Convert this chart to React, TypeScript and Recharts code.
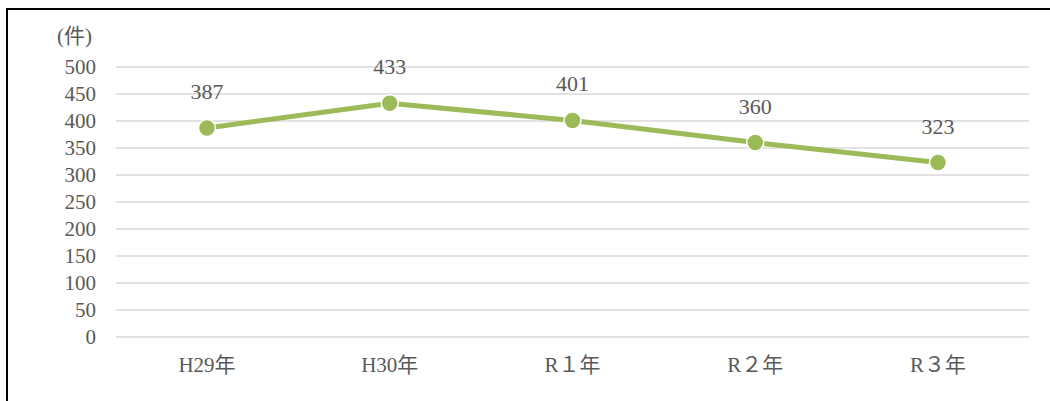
import React from "react";
import { LineChart, Line, XAxis, YAxis, CartesianGrid, LabelList } from "recharts";

const categories = ["H29年", "H30年", "R１年", "R２年", "R３年"];
const cases = [387, 433, 401, 360, 323];
const yTicks = [0, 50, 100, 150, 200, 250, 300, 350, 400, 450, 500];
const unitLabel = "(件)";

const data = categories.map((c, i) => ({ name: c, value: cases[i] }));

const FONT = "Liberation Serif, Times New Roman, Noto Sans CJK JP, serif";
const TEXT = "#595959";
const GREEN = "#9BBB59";

export default function App() {
  return (
    <div
      style={{
        position: "fixed",
        left: 6,
        top: 8,
        width: 1044,
        height: 393,
        borderTop: "2px solid #000",
        borderLeft: "2px solid #000",
        boxSizing: "border-box",
        background: "#fff",
      }}
    >
      <span
        style={{
          position: "absolute",
          left: 49,
          top: 14,
          fontSize: 21,
          color: TEXT,
          fontFamily: FONT,
          lineHeight: "24px",
          whiteSpace: "nowrap",
        }}
      >
        {unitLabel}
      </span>
      <LineChart
        width={1042}
        height={391}
        data={data}
        margin={{ top: 57, right: 21, left: 0, bottom: 0 }}
      >
        <CartesianGrid vertical={false} stroke="#D9D9D9" strokeWidth={1.5} />
        <XAxis
          dataKey="name"
          axisLine={false}
          tickLine={false}
          tickSize={0}
          tickMargin={20}
          height={64}
          padding={{ left: 91, right: 91 }}
          tick={{ fill: TEXT, fontSize: 21, fontFamily: FONT }}
          interval={0}
        />
        <YAxis
          domain={[0, 500]}
          ticks={yTicks}
          axisLine={false}
          tickLine={false}
          tickSize={0}
          tickMargin={20}
          width={108}
          interval={0}
          tick={{ fill: TEXT, fontSize: 21, fontFamily: FONT }}
        />
        <Line
          type="linear"
          dataKey="value"
          stroke={GREEN}
          strokeWidth={5}
          dot={{ r: 8.5, fill: GREEN, stroke: "#fff", strokeWidth: 1.5 }}
          activeDot={false}
          isAnimationActive={false}
        >
          <LabelList
            dataKey="value"
            position="top"
            offset={29}
            fill={TEXT}
            fontSize={22}
            fontFamily={FONT}
          />
        </Line>
      </LineChart>
    </div>
  );
}
